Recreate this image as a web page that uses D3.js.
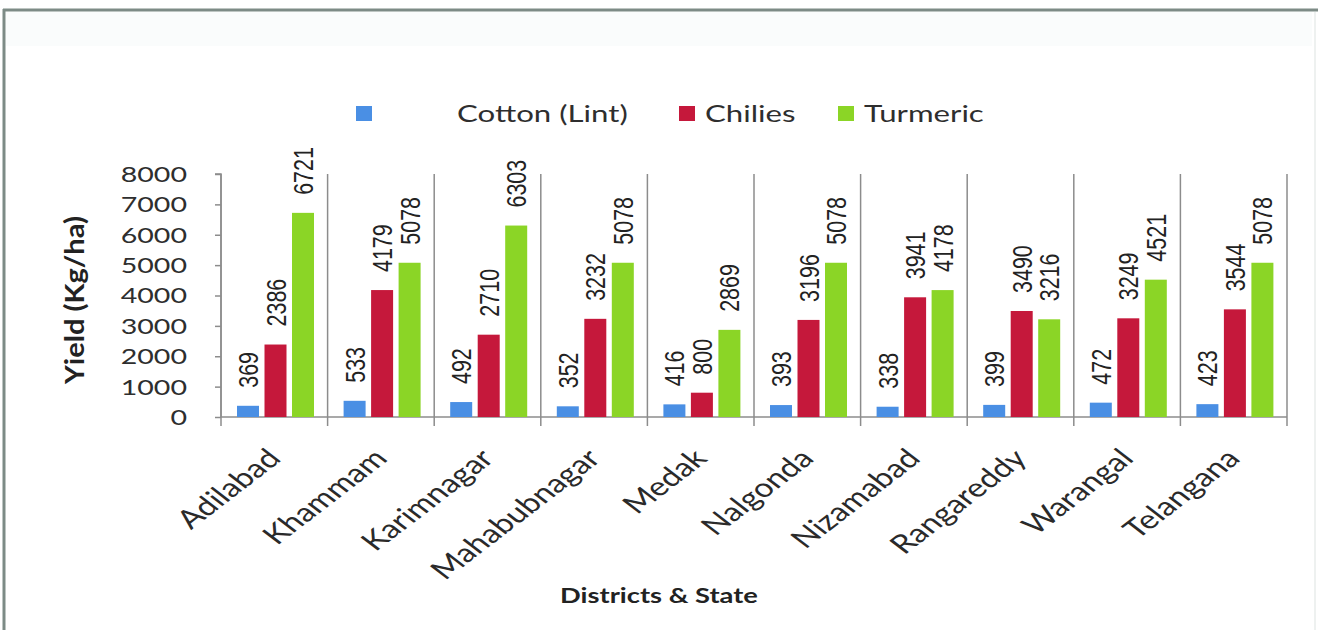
<!DOCTYPE html>
<html><head><meta charset="utf-8">
<script src="https://cdn.jsdelivr.net/npm/d3@7"></script>
<style>body{margin:0;background:#fff} svg{display:block}</style>
</head><body>
<svg id="chart" width="1318" height="630"></svg>
<script>
const districts = ["Adilabad","Khammam","Karimnagar","Mahabubnagar","Medak","Nalgonda","Nizamabad","Rangareddy","Warangal","Telangana"];
const seriesNames = ["Cotton (Lint)","Chilies","Turmeric"];
const cotton   = [369,533,492,352,416,393,338,399,472,423];
const chilies  = [2386,4179,2710,3232,800,3196,3941,3490,3249,3544];
const turmeric = [6721,5078,6303,5078,2869,5078,4178,3216,4521,5078];
const yTicks = [0,1000,2000,3000,4000,5000,6000,7000,8000];
const seriesColors = ["#4a8fe4","#c5183b","#8bd526"];
const yTitle = "Yield (Kg/ha)";
const xTitle = "Districts & State";

const series = [cotton, chilies, turmeric];
const W = 1318, H = 630;
const M = {left:221, right:1287, top:174, bottom:417};
const SX = 1.3; // horizontal stretch of the original picture
const svg = d3.select("#chart");

// frame
svg.append("rect").attr("x",0).attr("y",0).attr("width",W).attr("height",H).attr("fill","#fff");
svg.append("rect").attr("x",6).attr("y",12).attr("width",1306).attr("height",34).attr("fill","#fafcfc");
svg.append("line").attr("x1",3).attr("x2",W).attr("y1",10).attr("y2",10).attr("stroke","#7d8b86").attr("stroke-width",3);
svg.append("line").attr("x1",4).attr("x2",4).attr("y1",9).attr("y2",H).attr("stroke","#7d8b86").attr("stroke-width",3);
svg.append("line").attr("x1",1315).attr("x2",1315).attr("y1",12).attr("y2",H).attr("stroke","#eef1f0").attr("stroke-width",2);

const x = d3.scaleBand().domain(districts).range([M.left, M.right]).paddingInner(0).paddingOuter(0);
const xs = d3.scaleBand().domain(seriesNames).range([16, 93]).paddingInner(0.2).paddingOuter(0);
const y = d3.scaleLinear().domain([0, 8000]).range([M.bottom, M.top]);

const axisColor = "#8c8c8c";
// vertical separators (category boundaries)
const bounds = districts.map(d => x(d)).concat([M.right]);
svg.append("g").selectAll("line").data(bounds).join("line")
  .attr("x1", d=>d).attr("x2", d=>d)
  .attr("y1", M.top).attr("y2", M.bottom + 9)
  .attr("stroke", axisColor).attr("stroke-width", 1.5);

// y axis
const yAxis = d3.axisLeft(y).tickValues(yTicks).tickSize(6).tickFormat("");
const gy = svg.append("g").attr("transform", `translate(${M.left},0)`).call(yAxis);
gy.selectAll("path,line").attr("stroke", axisColor).attr("stroke-width", 1.5);
gy.select(".domain").attr("d", `M-6,${M.top}H0V${M.bottom}`);

// x axis baseline
svg.append("line").attr("x1", M.left).attr("x2", M.right).attr("y1", y(0)).attr("y2", y(0))
  .attr("stroke", axisColor).attr("stroke-width", 1.5);

// y tick labels
svg.append("g").selectAll("text").data(yTicks).join("text")
  .attr("transform", d => `translate(187,${y(d)}) scale(${SX},1)`)
  .attr("text-anchor","end").attr("dy","0.36em")
  .attr("font-family","Lato, 'Open Sans', sans-serif").attr("font-size",22)
  .attr("fill","#2e2e2e").text(d => d);

// bars
const groups = svg.append("g").selectAll("g").data(districts).join("g")
  .attr("transform", d => `translate(${x(d)},0)`);
groups.each(function(d, i){
  const g = d3.select(this);
  seriesNames.forEach((s, k) => {
    const v = series[k][i];
    g.append("rect")
      .attr("x", xs(s)).attr("width", xs.bandwidth())
      .attr("y", y(v)).attr("height", y(0) - y(v))
      .attr("fill", seriesColors[k]);
    const cx = xs(s) + xs.bandwidth()/2;
    g.append("text")
      .attr("transform", `translate(${cx},${y(v) - 18}) scale(${SX},1) rotate(-90)`)
      .attr("text-anchor","start").attr("dy","0.36em")
      .attr("font-family","'Liberation Sans', Arial, sans-serif").attr("font-size",21.5)
      .attr("fill","#222").text(v);
  });
});

// category labels
svg.append("g").selectAll("text").data(districts).join("text")
  .attr("transform", d => `translate(${x(d) + x.bandwidth()/2 + 8},460) scale(${SX},1) rotate(-45)`)
  .attr("text-anchor","end")
  .attr("font-family","Lato, 'Open Sans', sans-serif").attr("font-size",26)
  .attr("fill","#2a2a2a").text(d => d);

// axis titles
svg.append("text")
  .attr("transform", `translate(84,300) scale(1.25,1) rotate(-90)`)
  .attr("text-anchor","middle")
  .attr("font-family","Lato, 'Open Sans', sans-serif").attr("font-weight","bold").attr("font-size",22)
  .attr("textLength",168).attr("lengthAdjust","spacingAndGlyphs")
  .attr("fill","#222").text(yTitle);
svg.append("text")
  .attr("transform", `translate(659,603) scale(${SX},1)`)
  .attr("text-anchor","middle")
  .attr("font-family","Lato, 'Open Sans', sans-serif").attr("font-weight","bold").attr("font-size",21)
  .attr("fill","#222").text(xTitle);

// legend
const legendPos = [{sq:356, tx:457},{sq:679, tx:705},{sq:838, tx:864}];
const lg = svg.append("g");
seriesNames.forEach((s, k) => {
  lg.append("rect").attr("x", legendPos[k].sq).attr("y",106).attr("width",16).attr("height",15)
    .attr("fill", seriesColors[k]);
  lg.append("text")
    .attr("transform", `translate(${legendPos[k].tx},122) scale(${SX},1)`)
    .attr("font-family","Lato, 'Open Sans', sans-serif").attr("font-size",24)
    .attr("fill","#2e2e2e").text(s);
});
</script>
</body></html>
